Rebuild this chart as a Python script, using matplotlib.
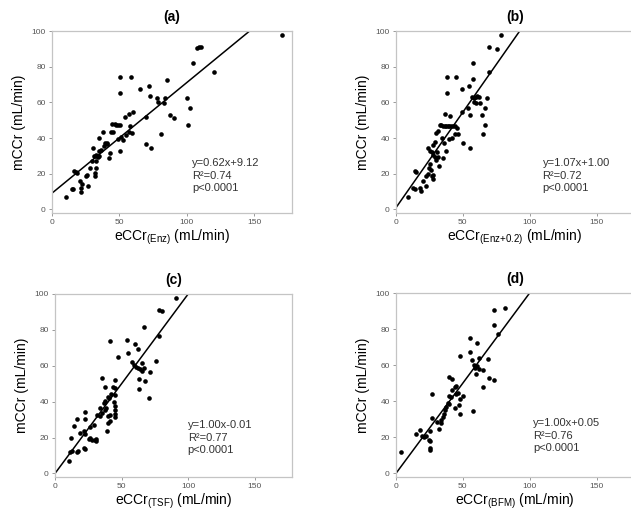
import matplotlib
matplotlib.use('Agg')
import matplotlib.pyplot as plt

plt.rcParams['font.family'] = ['Liberation Sans', 'DejaVu Sans']

# panel (a): eCCr(Enz) vs mCCr
a_x = [10.2, 14.9, 15.5, 16.4, 17.5, 21.0, 21.5, 21.6, 25.0, 26.7, 26.3, 28.5, 31.8, 32.0,
       32.5, 30.5, 31.2, 32.8, 34.0, 35.2, 32.8, 34.5, 37.6, 39.6, 40.5, 42.0, 43.0, 43.7,
       46.5, 47.5, 49.0, 50.5, 51.2, 48.8, 53.0, 50.8, 53.8, 56.8, 60.2, 56.8, 59.3, 50.5,
       50.8, 58.5, 64.9, 69.9, 71.9, 72.4, 69.9, 73.3, 77.8, 78.6, 80.6, 82.8, 83.5, 85.5,
       87.3, 90.3, 99.8, 100.5, 102.3, 104.8, 107.5, 109.0, 110.5, 119.8, 170.5, 33.0, 36.0,
       38.5, 44.6, 45.6, 54.8, 57.5, 29.5, 35.0, 41.0, 22.5, 18.5]
a_y = [6.9, 11.2, 11.6, 21.4, 21.0, 15.8, 12.0, 9.6, 19.0, 13.4, 19.2, 23.3, 18.6, 20.5,
       23.0, 34.4, 29.8, 29.8, 29.2, 32.5, 27.0, 40.0, 43.2, 37.2, 36.6, 28.8, 31.6, 43.2,
       48.0, 47.5, 47.5, 47.5, 40.6, 39.7, 39.1, 32.6, 52.0, 53.3, 54.4, 43.4, 42.8, 65.1,
       74.4, 74.4, 67.3, 52.0, 69.2, 63.8, 36.6, 34.4, 62.7, 60.0, 42.2, 59.5, 62.2, 72.8,
       52.9, 51.4, 62.7, 47.5, 56.8, 82.3, 90.5, 91.0, 91.3, 77.3, 98.0, 30.5, 33.5,
       35.5, 48.0, 43.4, 41.9, 46.6, 27.2, 30.0, 37.0, 14.5, 20.6]

# panel (b): eCCr(Enz+0.2) vs mCCr
b_x = [9.0, 13.9, 15.2, 12.7, 14.2, 17.7, 18.7, 22.6, 22.6, 23.9, 27.0, 27.5, 28.0, 24.6,
       25.6, 23.9, 25.6, 27.0, 27.6, 28.8, 29.6, 30.6, 32.0, 35.0, 27.6, 28.8, 30.1, 31.3,
       34.6, 35.6, 37.6, 32.6, 33.8, 35.0, 36.3, 37.5, 38.8, 40.0, 41.3, 42.5, 43.8, 36.8,
       40.5, 38.0, 38.0, 45.0, 40.0, 42.0, 43.8, 46.3, 45.5, 49.5, 50.0, 55.0, 49.5, 54.5,
       57.5, 57.5, 55.5, 53.7, 57.0, 58.0, 59.5, 60.5, 62.0, 58.0, 60.0, 63.0, 64.4, 66.2,
       66.9, 65.4, 68.2, 69.4, 69.9, 75.4, 78.6, 20.5, 26.0, 31.5]
b_y = [6.9, 21.4, 20.9, 12.2, 11.6, 12.2, 10.6, 13.1, 18.8, 20.1, 18.5, 17.0, 19.5, 23.2,
       25.6, 34.4, 33.0, 32.0, 30.7, 29.2, 27.9, 32.2, 24.1, 28.8, 36.3, 37.8, 42.9, 43.8,
       40.1, 37.3, 32.6, 47.5, 47.3, 47.0, 46.8, 46.6, 46.6, 47.0, 46.6, 47.0, 47.0, 53.4,
       52.1, 65.0, 74.4, 74.4, 39.2, 40.1, 42.0, 42.4, 45.7, 54.6, 37.2, 34.4, 67.4, 69.2,
       73.0, 82.3, 52.9, 56.6, 63.0, 62.5, 63.0, 63.5, 62.8, 60.0, 59.5, 59.8, 52.9, 57.0,
       47.5, 42.4, 62.7, 77.3, 91.2, 89.8, 98.0, 16.0, 22.0, 29.5]

# panel (c): eCCr(TSF) vs mCCr
c_x = [10.2, 11.5, 12.8, 16.5, 17.3, 21.5, 22.8, 12.3, 19.0, 21.5, 22.8, 25.3, 26.5, 27.8,
       30.0, 31.0, 30.5, 22.8, 22.8, 16.5, 26.5, 31.5, 34.0, 35.3, 37.8, 38.3, 40.0, 41.5,
       39.0, 41.5, 36.5, 37.8, 39.5, 40.5, 37.8, 43.8, 44.8, 45.3, 44.6, 45.0, 45.3, 44.8,
       45.2, 42.3, 35.3, 45.3, 41.5, 47.3, 54.0, 54.8, 60.3, 62.3, 58.0, 59.5, 61.0, 62.5,
       63.5, 65.0, 66.5, 65.5, 63.3, 67.3, 62.8, 66.5, 71.5, 70.8, 75.8, 77.8, 78.3, 80.0,
       91.0, 14.5, 29.0, 33.5, 39.5]
c_y = [7.1, 11.7, 12.6, 11.8, 12.4, 14.0, 13.5, 20.0, 22.8, 23.7, 21.9, 19.0, 19.5, 18.8,
       18.6, 17.8, 19.4, 34.3, 30.3, 30.3, 25.6, 32.5, 32.1, 33.4, 35.5, 36.5, 32.0, 32.5,
       23.7, 29.2, 39.1, 40.6, 42.6, 42.0, 48.1, 48.2, 47.5, 43.5, 40.0, 37.5, 35.5, 33.0,
       31.5, 44.4, 53.4, 52.0, 73.8, 64.9, 74.1, 67.0, 72.4, 69.2, 62.0, 60.5, 59.5, 58.5,
       58.0, 61.5, 59.0, 57.0, 52.4, 51.5, 47.3, 81.8, 56.6, 42.3, 62.7, 76.6, 91.0, 90.5,
       98.0, 26.5, 27.0, 36.5, 28.0]

# panel (d): eCCr(BFM) vs mCCr
d_x = [3.9, 14.7, 17.7, 19.6, 21.0, 22.6, 24.6, 25.6, 25.1, 25.1, 25.6, 27.0, 27.0, 32.0,
       34.0, 33.5, 34.8, 36.0, 36.8, 37.5, 39.0, 39.5, 39.5, 41.3, 39.5, 42.0, 43.8, 45.0,
       45.0, 42.0, 46.3, 50.0, 47.0, 47.5, 43.8, 57.5, 47.5, 55.5, 60.5, 55.0, 57.0, 62.0,
       59.0, 60.5, 62.0, 59.5, 64.9, 68.7, 69.4, 65.4, 73.6, 73.6, 73.1, 81.8, 76.0, 31.0,
       48.0, 58.5]
d_y = [11.6, 21.8, 24.2, 20.7, 20.0, 20.9, 18.5, 23.4, 17.7, 12.8, 13.8, 30.9, 44.0, 24.5,
       29.5, 28.0, 31.0, 33.0, 35.0, 37.0, 39.0, 38.5, 43.0, 42.4, 53.5, 52.2, 48.0, 48.5,
       44.0, 46.0, 44.3, 43.0, 38.0, 32.9, 36.5, 34.5, 65.1, 74.9, 72.5, 67.5, 62.8, 64.0,
       58.5, 59.5, 58.0, 55.0, 57.2, 63.3, 53.1, 48.0, 51.6, 82.3, 90.5, 91.5, 77.1, 28.5,
       41.0, 60.0]

panel_titles = ['(a)', '(b)', '(c)', '(d)']
subscripts = ['(Enz)', '(Enz{+}0.2)', '(TSF)', '(BFM)']
slopes = [0.62, 1.07, 1.00, 1.00]
intercepts = [9.12, 1.00, -0.01, 0.05]
fit_texts = ['y=0.62x+9.12\nR\u00b2=0.74\np<0.0001',
             'y=1.07x+1.00\nR\u00b2=0.72\np<0.0001',
             'y=1.00x-0.01\nR\u00b2=0.77\np<0.0001',
             'y=1.00x+0.05\nR\u00b2=0.76\np<0.0001']
xs = [a_x, b_x, c_x, d_x]
ys = [a_y, b_y, c_y, d_y]

W, H = 631, 513
# axes boxes in pixels: left, top, right, bottom
boxes = [(52, 31, 292, 213), (396, 31, 634, 213),
         (55, 294, 292, 477), (396, 293, 634, 477)]
text_pos = [(0.583, 0.30), (0.616, 0.30), (0.56, 0.31), (0.575, 0.32)]

fig = plt.figure(figsize=(W / 100, H / 100), dpi=100)
frame_col = '#c4c4c4'

for i in range(4):
    l, t, r, b = boxes[i]
    ax = fig.add_axes([l / W, 1 - b / H, (r - l) / W, (b - t) / H])
    ax.scatter(xs[i], ys[i], s=11, c='black', linewidths=0, zorder=3)
    lx = [0, 180]
    ly = [slopes[i] * v + intercepts[i] for v in lx]
    ax.plot(lx, ly, color='black', lw=1.1, zorder=2)
    ax.set_xlim(0, 178)
    ax.set_ylim(-2, 100)
    ax.set_xticks([0, 50, 100, 150])
    ax.set_yticks([0, 20, 40, 60, 80, 100])
    for sp in ax.spines.values():
        sp.set_color(frame_col)
        sp.set_linewidth(0.9)
    ax.tick_params(length=2.5, width=0.7, color='#999999', labelsize=6,
                   labelcolor='#555555', pad=2)
    ax.set_title(panel_titles[i], fontsize=10, fontweight='bold', pad=7)
    ax.set_ylabel('mCCr (mL/min)', fontsize=10, labelpad=4)
    ax.set_xlabel('eCCr$_{\\mathregular{' + subscripts[i] + '}}$ (mL/min)',
                  fontsize=10, labelpad=1)
    ax.text(text_pos[i][0], text_pos[i][1], fit_texts[i], transform=ax.transAxes,
            fontsize=8, color='#333333', va='top', ha='left', linespacing=1.3)

fig.savefig('out.png', dpi=100)
